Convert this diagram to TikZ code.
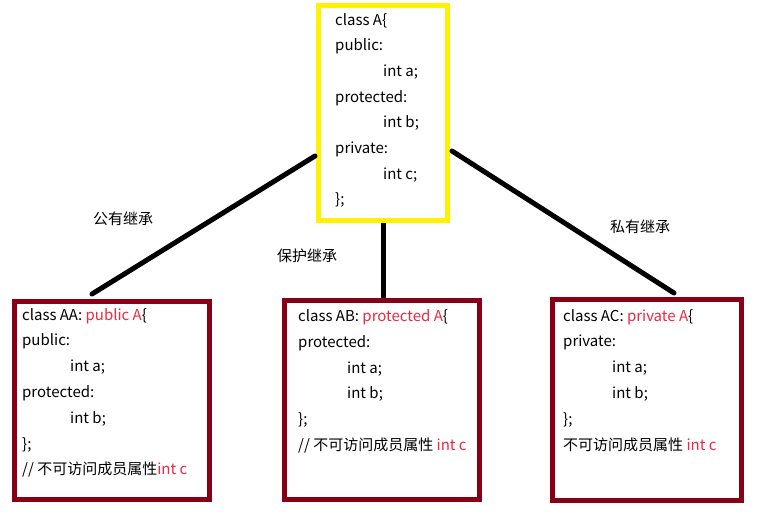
\documentclass[tikz,border=0pt]{standalone}
\usepackage{fontspec}
\setmainfont{Noto Sans CJK SC}
\definecolor{boxred}{RGB}{136,0,21}
\definecolor{txtred}{RGB}{240,40,65}
\definecolor{boxyellow}{RGB}{255,242,0}
\begin{document}
\begin{tikzpicture}[x=1pt,y=-1pt,
  box/.style={draw=boxred,line width=5pt,rectangle,inner sep=0pt},
  ln/.style={anchor=base west,inner sep=0pt,font=\fontsize{15}{18}\selectfont},
  lbl/.style={inner sep=0pt,font=\fontsize{15}{18}\selectfont},
  conn/.style={line width=5pt,line cap=round}]
\useasboundingbox[fill=white] (0,0) rectangle (779,515);
% boxes
\node[box,draw=boxyellow,minimum width=129pt,minimum height=215pt] (A) at (383,113) {};
\node[box,minimum width=195pt,minimum height=198pt] (AA) at (112,400.5) {};
\node[box,minimum width=195pt,minimum height=199pt] (AB) at (382,400) {};
\node[box,minimum width=189pt,minimum height=201pt] (AC) at (647,400) {};
% class A
\node[ln] (a1) at (335,25) {class A\{};
\node[ln] (a2) at (335,50.7) {public:};
\node[ln] (a3) at (383,76.4) {int a;};
\node[ln] (a4) at (335,102.1) {protected:};
\node[ln] (a5) at (383,127.8) {int b;};
\node[ln] (a6) at (335,153.5) {private:};
\node[ln] (a7) at (383,179.2) {int c;};
\node[ln] (a8) at (335,204.9) {\};};
% class AA
\node[ln] (aa1) at (22,320) {class AA: \textcolor{txtred}{public A}\{};
\node[ln] (aa2) at (22,345.8) {public:};
\node[ln] (aa3) at (70,371.6) {int a;};
\node[ln] (aa4) at (22,397.4) {protected:};
\node[ln] (aa5) at (70,423.2) {int b;};
\node[ln] (aa6) at (22,449) {\};};
\node[ln] (aa7) at (22,474.8) {// 不可访问成员属性\textcolor{txtred}{int c}};
% class AB
\node[ln] (ab1) at (298,321.5) {class AB: \textcolor{txtred}{protected A}\{};
\node[ln] (ab2) at (298,347.3) {protected:};
\node[ln] (ab3) at (347,373.1) {int a;};
\node[ln] (ab4) at (347,398.9) {int b;};
\node[ln] (ab5) at (298,424.7) {\};};
\node[ln] (ab6) at (298,450.5) {// 不可访问成员属性 \textcolor{txtred}{int c}};
% class AC
\node[ln] (ac1) at (563,321) {class AC: \textcolor{txtred}{private A}\{};
\node[ln] (ac2) at (563,346.8) {private:};
\node[ln] (ac3) at (612,372.6) {int a;};
\node[ln] (ac4) at (612,398.4) {int b;};
\node[ln] (ac5) at (563,424.2) {\};};
\node[ln] (ac6) at (563,450) {不可访问成员属性 \textcolor{txtred}{int c}};
% connectors
\coordinate (c1a) at (315,156);
\coordinate (c1b) at (92,294);
\coordinate (c2a) at (383,223);
\coordinate (c2b) at (383,298);
\coordinate (c3a) at (452,151);
\coordinate (c3b) at (674,293);
\draw[conn] (c1a) -- (c1b);
\draw[conn,line cap=butt] (c2a) -- (c2b);
\draw[conn] (c3a) -- (c3b);
% labels
\node[lbl] (l1) at (123,219) {公有继承};
\node[lbl] (l2) at (307,256) {保护继承};
\node[lbl] (l3) at (640,227) {私有继承};
\end{tikzpicture}
\end{document}
